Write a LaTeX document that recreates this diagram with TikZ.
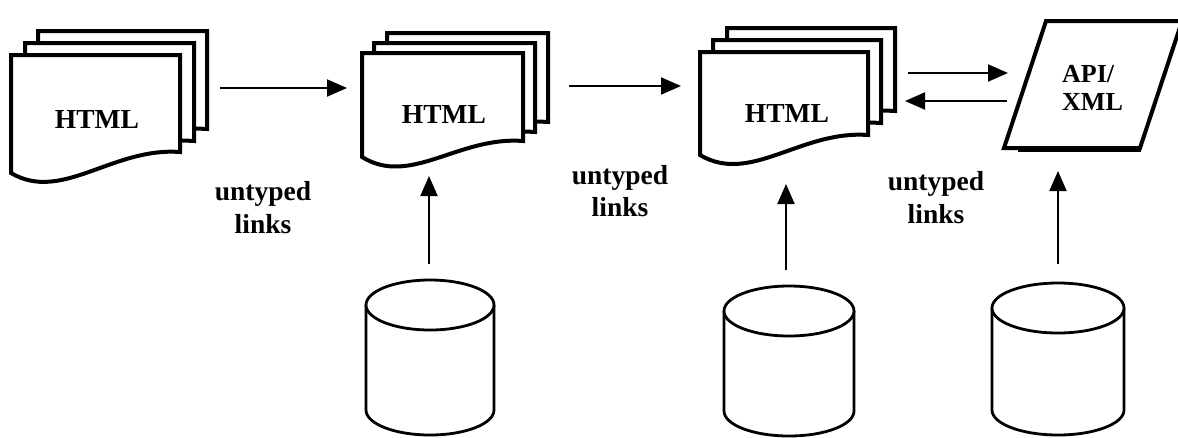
\documentclass[tikz,border=0pt]{standalone}
\usepackage{fontspec}
\setmainfont{Liberation Serif}
\usetikzlibrary{arrows.meta}

\tikzset{
  pageline/.style={line width=4pt, line join=miter, fill=white},
  dbline/.style={line width=2.8pt, fill=white},
  link/.style={line width=2pt, -{Triangle[length=20pt,width=17pt]}},
  lbl/.style={font=\fontsize{27.5}{32}\selectfont\bfseries, inner sep=0pt, anchor=base},
  apilbl/.style={font=\fontsize{26}{28}\selectfont\bfseries, inner sep=0pt, anchor=base west},
}

% one sheet of a document: top-left x, y, width, left height, rise of the wavy bottom
\newcommand{\docpage}[5]{%
  \draw[pageline] (#1,#2) -- ({#1+#3},#2) -- ({#1+#3},{#2+#4-#5})
    .. controls ({#1+0.6*#3},{#2+#4-#5-5}) and ({#1+0.3*#3},{#2+#4+30}) .. (#1,{#2+#4}) -- cycle;}

% database drum: centre x, top-ellipse centre y, x radius, y radius, body height
\newcommand{\dbdrum}[5]{%
  \draw[dbline] ({#1-#3},#2) -- ({#1-#3},{#2+#5})
    arc[start angle=180, end angle=0, x radius=#3, y radius=#4] -- ({#1+#3},#2);
  \draw[dbline] (#1,#2) ellipse [x radius=#3, y radius=#4];}

\begin{document}
\begin{tikzpicture}[x=1pt, y=-1pt]
\useasboundingbox (0,0) rectangle (1178,437);

% document stacks
\docpage{38}{31}{169}{119}{21}
\docpage{25}{43}{169}{119}{21}
\docpage{11}{55}{169}{118}{21}

\docpage{387}{33}{161}{105}{16}
\docpage{374}{43}{161}{105}{16}
\docpage{362}{53}{161}{104}{16}

\docpage{727}{28}{168}{103}{20}
\docpage{713}{40}{168}{103}{20}
\docpage{700}{52}{168}{103}{20}

\node[lbl] (html1) at (97,128) {HTML};
\node[lbl] (html2) at (444,123) {HTML};
\node[lbl] (html3) at (787,122) {HTML};

% API / XML data sheet
\draw[pageline] (1004,148) -- (1140,148) -- (1182,21) -- (1046,21) -- cycle;
\draw[line width=2.5pt] (1018,150.5) -- (1141,150.5);
\node[apilbl] (api) at (1062,82) {API/};
\node[apilbl] (xml) at (1062,110) {XML};

% databases
\dbdrum{430}{305}{64}{25}{105}
\dbdrum{789}{311}{65}{25}{100}
\dbdrum{1058}{308}{66}{25}{102}

% link labels
\node[lbl] (l1a) at (263,200) {untyped};
\node[lbl] (l1b) at (263,233) {links};
\node[lbl] (l2a) at (620,184) {untyped};
\node[lbl] (l2b) at (620,216) {links};
\node[lbl] (l3a) at (936,190) {untyped};
\node[lbl] (l3b) at (936,223) {links};

% arrow end points
\coordinate (h1s) at (220,88);  \coordinate (h1e) at (347,88);
\coordinate (h2s) at (569,86);  \coordinate (h2e) at (681,86);
\coordinate (h3s) at (908,73);  \coordinate (h3e) at (1008,73);
\coordinate (h4s) at (1007,101); \coordinate (h4e) at (905,101);
\coordinate (v1s) at (429,264); \coordinate (v1e) at (429,176);
\coordinate (v2s) at (786,270); \coordinate (v2e) at (786,184);
\coordinate (v3s) at (1058,264); \coordinate (v3e) at (1058,171);

\draw[link] (h1s) -- (h1e);
\draw[link] (h2s) -- (h2e);
\draw[link] (h3s) -- (h3e);
\draw[link] (h4s) -- (h4e);
\draw[link] (v1s) -- (v1e);
\draw[link] (v2s) -- (v2e);
\draw[link] (v3s) -- (v3e);
\end{tikzpicture}
\end{document}
